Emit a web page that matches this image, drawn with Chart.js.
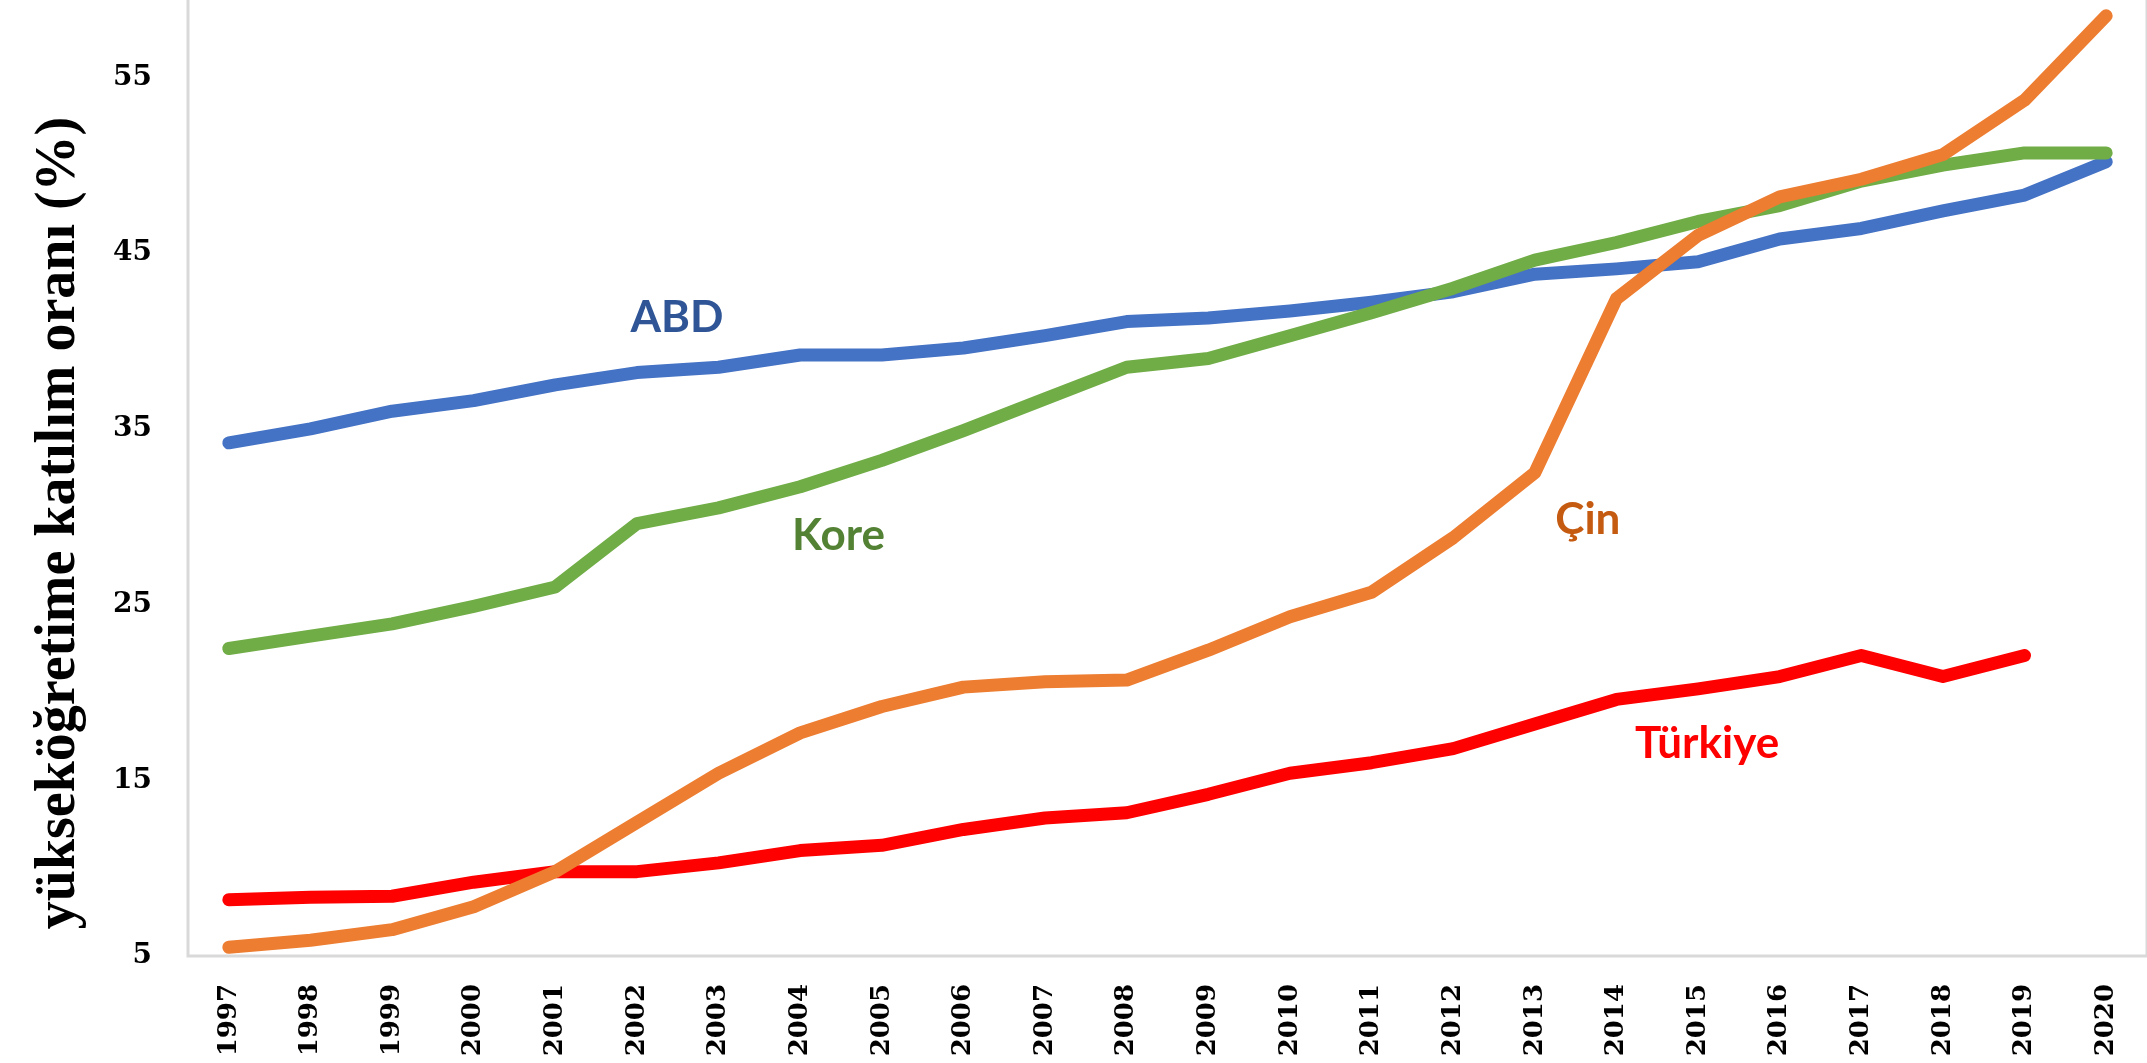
<!DOCTYPE html>
<html>
<head>
<meta charset="utf-8">
<script src="https://cdn.jsdelivr.net/npm/chart.js@4.4.1/dist/chart.umd.min.js"></script>
<style>
  html, body { margin: 0; padding: 0; background: #fff; }
  #wrap { width: 2147px; height: 1063px; }
</style>
</head>
<body>
<div id="wrap"><canvas id="chart"></canvas></div>
<script>
// yıllar
const years = ['1997','1998','1999','2000','2001','2002','2003','2004','2005','2006','2007','2008',
               '2009','2010','2011','2012','2013','2014','2015','2016','2017','2018','2019','2020'];

// ülke serileri (%)
const abd     = [34.2, 35.0, 36.0, 36.6, 37.5, 38.2, 38.5, 39.2, 39.2, 39.6, 40.3, 41.1,
                 41.3, 41.7, 42.2, 42.8, 43.8, 44.1, 44.5, 45.8, 46.4, 47.4, 48.3, 50.2];
const kore    = [22.5, 23.2, 23.9, 24.9, 26.0, 29.6, 30.5, 31.7, 33.2, 34.9, 36.7, 38.5,
                 39.0, 40.3, 41.6, 43.0, 44.6, 45.6, 46.8, 47.7, 49.1, 50.0, 50.7, 50.7];
const cin     = [5.5, 5.9, 6.5, 7.8, 9.8, 12.6, 15.4, 17.7, 19.2, 20.3, 20.6, 20.7,
                 22.4, 24.3, 25.7, 28.8, 32.5, 42.4, 46.0, 48.2, 49.2, 50.6, 53.7, 58.5];
const turkiye = [8.2, 8.35, 8.4, 9.2, 9.8, 9.8, 10.3, 11.0, 11.3, 12.2, 12.85, 13.15,
                 14.2, 15.4, 16.0, 16.8, 18.2, 19.6, 20.2, 20.9, 22.1, 20.9, 22.1, null];

// y ekseni etiketleri
const yTicks = [5, 15, 25, 35, 45, 55];

// seri isimleri (grafik üstündeki yazılar)
const seriesLabels = [
  { text: 'ABD',     color: '#2F5597', x: 5.49,  y: 41.3 },
  { text: 'Kore',    color: '#548235', x: 7.47,  y: 28.9 },
  { text: 'Çin',     color: '#C55A11', x: 16.65, y: 29.8 },
  { text: 'Türkiye', color: '#FF0000', x: 18.11, y: 17.1 }
];

const yTitle = 'yükseköğretime katılım oranı (%)';

// çerçeve + seri yazıları + eksen başlığı
const extrasPlugin = {
  id: 'extras',
  beforeDatasetsDraw(chart) {
    const { ctx, chartArea } = chart;
    ctx.save();
    ctx.strokeStyle = '#D9D9D9';
    ctx.lineWidth = 3;
    ctx.strokeRect(chartArea.left, chartArea.top - 5, chartArea.right - chartArea.left, chartArea.bottom - chartArea.top + 5);
    ctx.restore();
  },
  afterDraw(chart) {
    const { ctx, scales } = chart;
    ctx.save();
    ctx.font = 'bold 44px Lato';
    ctx.textAlign = 'center';
    ctx.textBaseline = 'middle';
    seriesLabels.forEach(l => {
      ctx.fillStyle = l.color;
      const px = scales.x.getPixelForValue(0) + l.x * (scales.x.getPixelForValue(1) - scales.x.getPixelForValue(0));
      ctx.fillText(l.text, px, scales.y.getPixelForValue(l.y));
    });
    // y başlığı
    ctx.translate(60, 523);
    ctx.rotate(-Math.PI / 2);
    ctx.fillStyle = '#000';
    ctx.font = 'bold 56px "Liberation Serif"';
    ctx.fillText(yTitle, 0, 0);
    ctx.restore();
  }
};

const lineStyle = { borderWidth: 13, borderCapStyle: 'round', borderJoinStyle: 'round', pointRadius: 0, tension: 0, fill: false };

new Chart(document.getElementById('chart').getContext('2d'), {
  type: 'line',
  data: {
    labels: years,
    datasets: [
      { label: 'Çin',     data: cin,     borderColor: '#ED7D31', ...lineStyle },
      { label: 'Kore',    data: kore,    borderColor: '#70AD47', ...lineStyle },
      { label: 'ABD',     data: abd,     borderColor: '#4472C4', ...lineStyle },
      { label: 'Türkiye', data: turkiye, borderColor: '#FF0000', ...lineStyle }
    ]
  },
  options: {
    responsive: true,
    maintainAspectRatio: false,
    animation: false,
    layout: { padding: 0 },
    plugins: { legend: { display: false }, tooltip: { enabled: false } },
    scales: {
      x: {
        offset: true,
        grid: { display: false, drawTicks: false },
        border: { display: false },
        ticks: {
          color: '#000',
          font: { family: 'DejaVu Serif', weight: 'bold', size: 26 },
          minRotation: 90, maxRotation: 90,
          padding: 28,
          autoSkip: false
        },
        afterFit(scale) {
          scale.height = 107;
          scale.paddingLeft = 0; scale.paddingRight = 0;
        }
      },
      y: {
        min: 5,
        max: 59.4,
        grid: { display: false, drawTicks: false },
        border: { display: false },
        ticks: {
          color: '#000',
          font: { family: 'DejaVu Serif', weight: 'bold', size: 28 },
          padding: 36
        },
        afterBuildTicks(scale) { scale.ticks = yTicks.map(v => ({ value: v })); },
        afterFit(scale) {
          scale.width = 188;
          scale.paddingTop = 0; scale.paddingBottom = 0;
        }
      }
    }
  },
  plugins: [extrasPlugin]
});
</script>
</body>
</html>
